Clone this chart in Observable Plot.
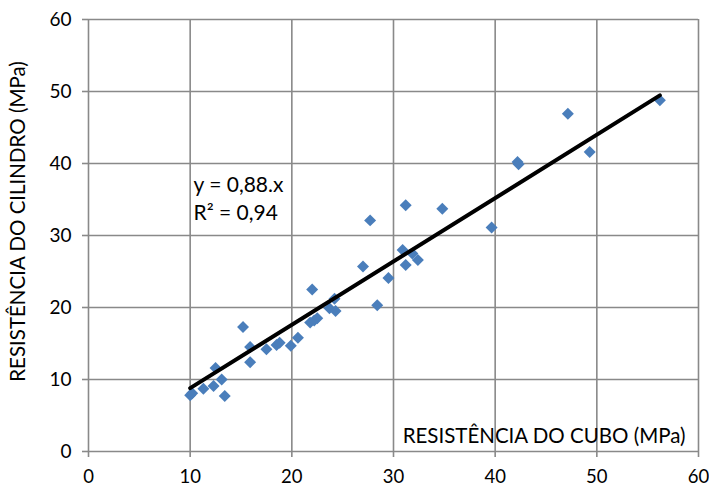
<!DOCTYPE html>
<html>
<head>
<meta charset="utf-8">
<script src="https://cdn.jsdelivr.net/npm/d3@7"></script>
<script src="https://cdn.jsdelivr.net/npm/@observablehq/plot@0.6"></script>
<style>
  html, body { margin: 0; padding: 0; background: #fff; }
  #chart svg { display: block; font-family: Lato, "Open Sans", sans-serif; }
</style>
</head>
<body>
<div id="chart"></div>
<script>
// Data
const cubo = [10.0, 10.2, 11.3, 12.3, 12.5, 13.1, 13.4, 15.2, 15.9, 15.9, 17.5, 18.5, 18.8, 19.9, 20.6, 21.8, 22.2, 22.5, 22.0, 23.7, 24.3, 24.2, 27.0, 27.7, 28.4, 29.5, 30.9, 31.2, 31.2, 31.85, 32.4, 34.8, 39.65, 42.2, 42.3, 47.15, 49.3, 56.2];
const cilindro = [7.8, 8.1, 8.7, 9.1, 11.6, 10.0, 7.7, 17.3, 14.5, 12.4, 14.2, 14.8, 15.1, 14.7, 15.8, 17.9, 18.2, 18.5, 22.5, 19.9, 19.5, 21.2, 25.7, 32.1, 20.3, 24.1, 28.0, 34.2, 25.9, 27.5, 26.6, 33.7, 31.1, 40.2, 39.9, 46.9, 41.6, 48.8];
const tickValues = [0, 10, 20, 30, 40, 50, 60];
const slope = 0.88;
const equationLines = ["y = 0,88.x", "R² = 0,94"];
const xLabel = "RESISTÊNCIA DO CUBO (MPa)";
const yLabel = "RESISTÊNCIA DO CILINDRO (MPa)";

const points = cubo.map((x, i) => ({x, y: cilindro[i]}));
const xMin = d3.min(cubo), xMax = d3.max(cubo);
const trend = [{x: xMin, y: slope * xMin}, {x: xMax, y: slope * xMax}];

const gridColor = "#898989";

const chart = Plot.plot({
  width: 709,
  height: 488,
  marginLeft: 88,
  marginRight: 11,
  marginTop: 19,
  marginBottom: 37,
  style: {fontSize: "19px", fontFamily: "Lato, 'Open Sans', sans-serif", color: "#000", background: "#fff"},
  x: {domain: [0, 60]},
  y: {domain: [0, 60]},
  marks: [
    Plot.gridX(tickValues, {stroke: gridColor, strokeOpacity: 1, strokeWidth: 1.6}),
    Plot.gridY(tickValues, {stroke: gridColor, strokeOpacity: 1, strokeWidth: 1.6}),
    Plot.axisX(tickValues, {tickSize: 6, tickPadding: 12, stroke: gridColor, strokeWidth: 1.6, label: null, fontSize: 18.5, fill: "#000"}),
    Plot.axisY(tickValues, {tickSize: 6, tickPadding: 11, stroke: gridColor, strokeWidth: 1.6, label: null, fontSize: 19, fill: "#000"}),
    Plot.dot(points, {x: "x", y: "y", symbol: "diamond2", r: 5.4, fill: "#4a7ebb", stroke: "none"}),
    Plot.line(trend, {x: "x", y: "y", stroke: "#000", strokeWidth: 4}),
    Plot.text([equationLines.join("\n")], {frameAnchor: "top-left", dx: 105, dy: 152, textAnchor: "start", lineAnchor: "top", lineHeight: 1.35, fontSize: 21, fill: "#000"}),
    Plot.text([xLabel], {frameAnchor: "bottom-right", dx: -13, dy: -9, textAnchor: "end", lineAnchor: "bottom", fontSize: 20.5, fill: "#000"}),
    Plot.text([yLabel], {frameAnchor: "left", dx: -70, dy: -14, rotate: -90, textAnchor: "middle", lineAnchor: "middle", fontSize: 20.5, fill: "#000"})
  ]
});
document.getElementById("chart").appendChild(chart);
</script>
</body>
</html>
